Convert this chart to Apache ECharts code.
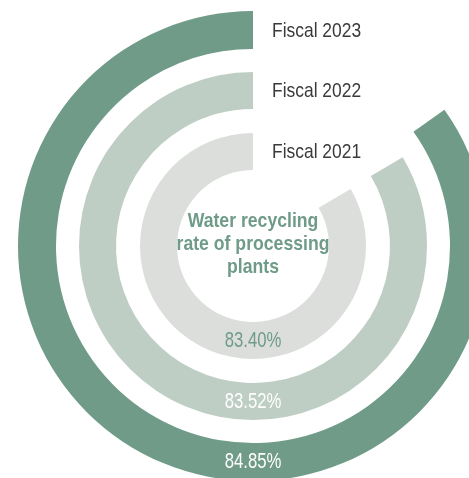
<!DOCTYPE html>
<html>
<head>
<meta charset="utf-8">
<script src="https://cdn.jsdelivr.net/npm/echarts@6/dist/echarts.min.js"></script>
<style>
  html, body { margin: 0; padding: 0; background: #fff; }
  #chart { width: 469px; height: 478px; }
</style>
</head>
<body>
<div id="chart"></div>
<script>
  // data, inner ring first
  var years = ['Fiscal 2021', 'Fiscal 2022', 'Fiscal 2023'];
  var rates = [83.40, 83.52, 84.85];
  var title = 'Water recycling\nrate of processing\nplants';

  var ringColors = ['#dcdedc', '#bfcec5', '#6f9b88'];
  var valueColors = ['#6f9b88', '#ffffff', '#ffffff'];
  var radii = [[76, 113], [137, 174], [197, 235]];
  var cx = 253, cy = 246;
  var font = '"Liberation Sans", Arial, sans-serif';

  var chart = echarts.init(document.getElementById('chart'));

  var series = [];
  var graphic = [];
  for (var i = 0; i < years.length; i++) {
    series.push({
      type: 'pie',
      silent: true,
      center: [cx, cy],
      radius: radii[i],
      startAngle: 90,
      clockwise: false,
      label: { show: false },
      labelLine: { show: false },
      itemStyle: { borderWidth: 0 },
      data: [
        { name: years[i], value: rates[i], itemStyle: { color: ringColors[i] } },
        { name: 'rest', value: 100 - rates[i], itemStyle: { color: 'rgba(0,0,0,0)' } }
      ]
    });
    var mid = (radii[i][0] + radii[i][1]) / 2;
    // year label in the gap at the top (font squeezed to look condensed)
    graphic.push({
      type: 'text',
      z: 100,
      x: 272,
      y: cy - mid + 1,
      scaleX: 0.83,
      style: { text: years[i], fill: '#3a3a3a', font: '21px ' + font, verticalAlign: 'middle' }
    });
    // value label at the bottom of the ring
    graphic.push({
      type: 'text',
      z: 100,
      x: cx,
      y: cy + mid,
      scaleX: 0.76,
      style: {
        text: rates[i].toFixed(2) + '%',
        fill: valueColors[i],
        font: '22px ' + font,
        align: 'center',
        verticalAlign: 'middle'
      }
    });
  }

  graphic.push({
    type: 'text',
    z: 100,
    x: cx,
    y: cy - 2,
    scaleX: 0.84,
    style: {
      text: title,
      fill: '#6f9b88',
      font: 'bold 21px ' + font,
      lineHeight: 23,
      align: 'center',
      verticalAlign: 'middle'
    }
  });

  chart.setOption({
    backgroundColor: '#ffffff',
    animation: false,
    series: series,
    graphic: graphic
  });
</script>
</body>
</html>
